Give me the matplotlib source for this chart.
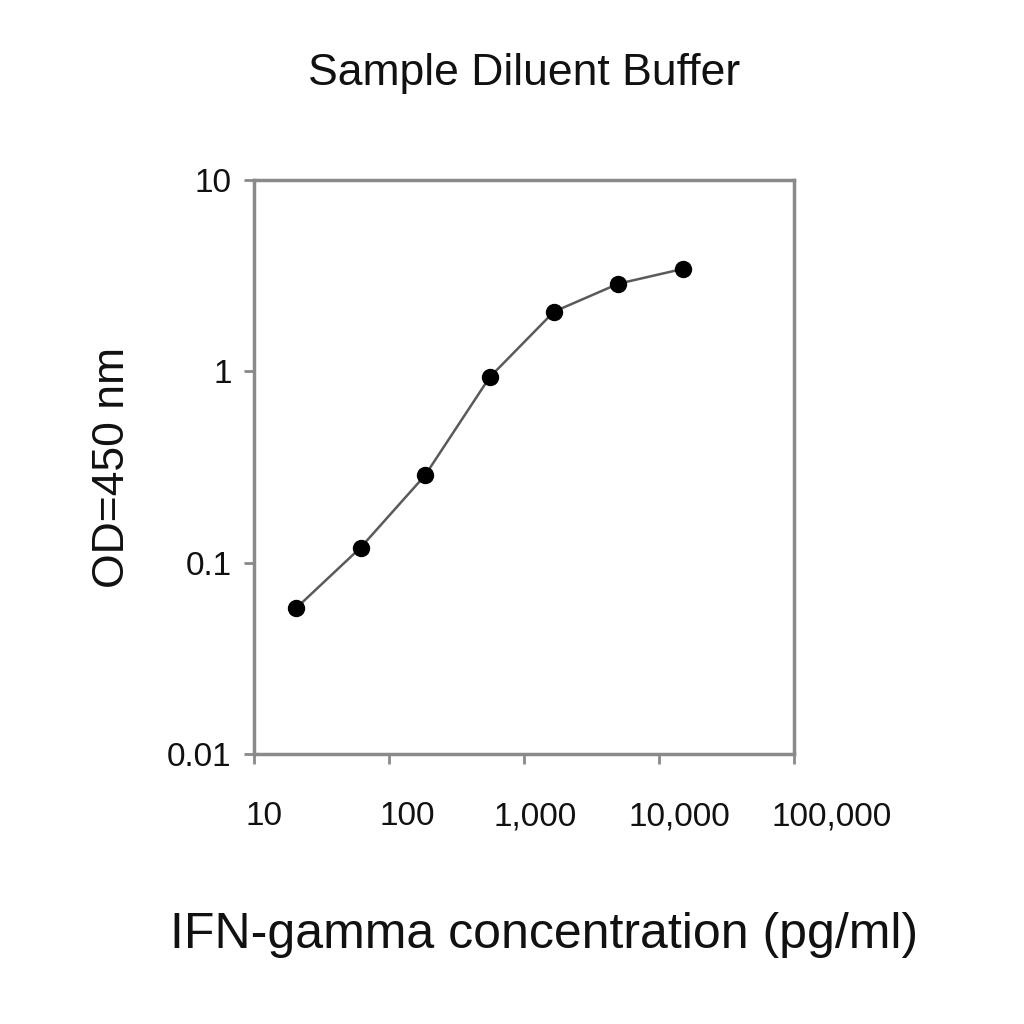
import matplotlib
matplotlib.use("Agg")
import matplotlib.pyplot as plt
import matplotlib.transforms as mtransforms
from matplotlib.ticker import FixedLocator, FixedFormatter, NullLocator

plt.rcParams['font.family'] = ['Liberation Sans', 'DejaVu Sans']

concentration = [20.6, 61.7, 185, 556, 1667, 5000, 15000]
od450 = [0.058, 0.12, 0.286, 0.93, 2.05, 2.87, 3.43]

x_ticks = [10, 100, 1000, 10000, 100000]
x_labels = ["10", "100", "1,000", "10,000", "100,000"]
y_ticks = [0.01, 0.1, 1, 10]
y_labels = ["0.01", "0.1", "1", "10"]

fig = plt.figure(figsize=(10.24, 10.24), dpi=100)
ax = fig.add_axes([254/1024, 1-754/1024, (794-254)/1024, (754-180)/1024])
ax.plot(concentration, od450, color='#5a5a5a', lw=1.8, marker='o', ms=11.5,
        mfc='black', mec='black')
ax.set_xscale('log')
ax.set_yscale('log')
ax.set_xlim(10, 100000)
ax.set_ylim(0.01, 10)
ax.xaxis.set_major_locator(FixedLocator(x_ticks))
ax.xaxis.set_major_formatter(FixedFormatter(x_labels))
ax.yaxis.set_major_locator(FixedLocator(y_ticks))
ax.yaxis.set_major_formatter(FixedFormatter(y_labels))
ax.xaxis.set_minor_locator(NullLocator())
ax.yaxis.set_minor_locator(NullLocator())
for s in ax.spines.values():
    s.set_color('#8a8a8a')
    s.set_linewidth(2.5)
ax.tick_params(axis='both', direction='out', length=7, width=2, color='#8a8a8a',
               labelsize=24, labelcolor='#111111')
ax.tick_params(axis='x', pad=27)
ax.tick_params(axis='y', pad=9)

# small horizontal shifts of the x tick labels (in pixels) as in the reference
shifts = [10, 18, 11, 20, 38]
for lab, dx in zip(ax.get_xticklabels(), shifts):
    lab.set_transform(lab.get_transform() +
                      mtransforms.ScaledTranslation(dx/100, 0, fig.dpi_scale_trans))

fig.text(524/1024, 1-73/1024, "Sample Diluent Buffer", ha='center', va='center',
         fontsize=32, color='#111111')
fig.text(544/1024, 1-935/1024, "IFN-gamma concentration (pg/ml)", ha='center',
         va='center', fontsize=36, color='#111111')
fig.text(112/1024, 1-467/1024, "OD=450 nm", ha='center', va='center',
         rotation=90, fontsize=32, color='#111111')

fig.savefig("out.png", dpi=100)
